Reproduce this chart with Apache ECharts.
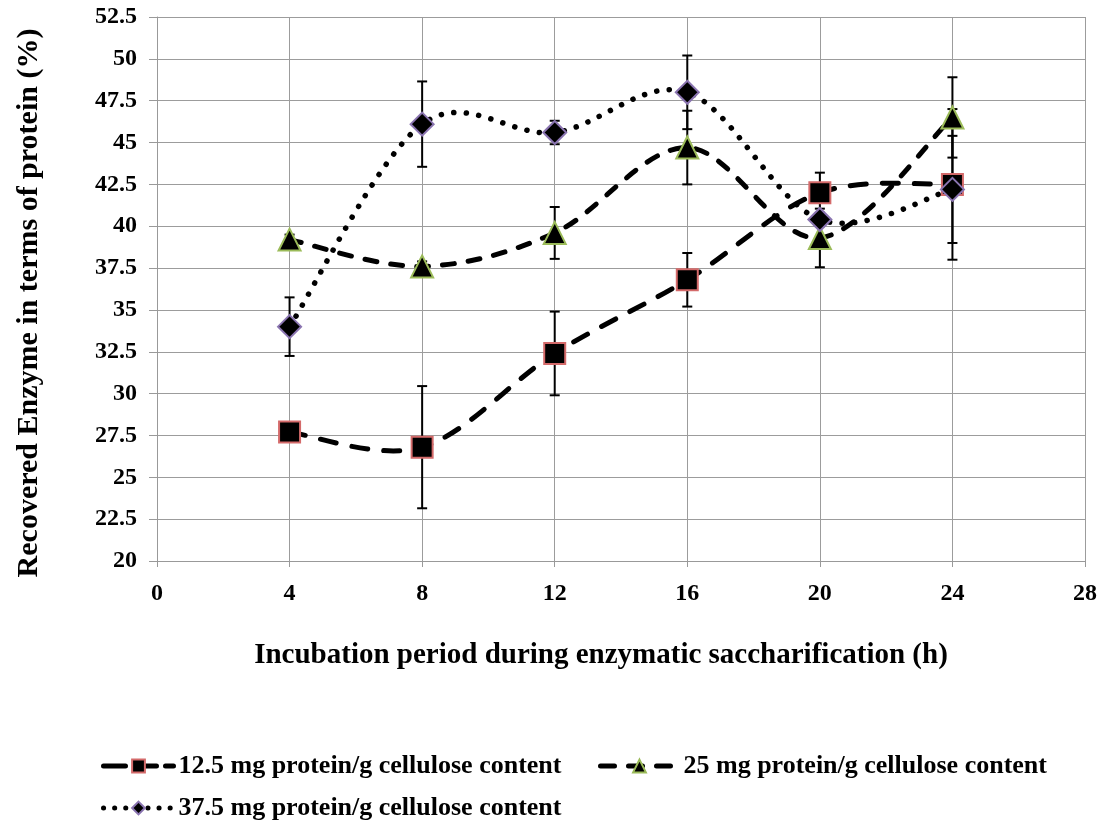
<!DOCTYPE html>
<html>
<head>
<meta charset="utf-8">
<script src="https://cdn.jsdelivr.net/npm/echarts@6/dist/echarts.min.js"></script>
<style>html,body{margin:0;padding:0;background:#fff}#c{width:1108px;height:823px}</style>
</head>
<body>
<div id="c"></div>
<script>
const hours = [4, 8, 12, 16, 20, 24];
const xTicks = [0, 4, 8, 12, 16, 20, 24, 28];
const yTicks = [20, 22.5, 25, 27.5, 30, 32.5, 35, 37.5, 40, 42.5, 45, 47.5, 50, 52.5];
const names = ['12.5 mg protein/g cellulose content', '25 mg protein/g cellulose content', '37.5 mg protein/g cellulose content'];
const s1 = [27.7, 26.8, 32.4, 36.8, 42.0, 42.5];
const s1err = [0.3, 3.65, 2.5, 1.6, 1.2, 4.5];
const s2 = [39.2, 37.6, 39.6, 44.7, 39.3, 46.5];
const s2err = [0.3, 0.3, 1.55, 2.2, 1.75, 2.4];
const s3 = [34.0, 46.1, 45.6, 48.0, 40.4, 42.2];
const s3err = [1.75, 2.55, 0.7, 2.2, 0.4, 3.2];

const FONT = 'Liberation Serif';
const chart = echarts.init(document.getElementById('c'), null, {renderer: 'canvas'});

function pts(vals) { return hours.map((h, i) => [h, vals[i]]); }
function errData(vals, errs) { return hours.map((h, i) => [h, vals[i] - errs[i], vals[i] + errs[i]]); }
function errSeries(vals, errs) {
  return {
    type: 'custom', silent: true, z: 3,
    data: errData(vals, errs),
    renderItem: function (params, api) {
      const x = api.value(0);
      const lo = api.coord([x, api.value(1)]);
      const hi = api.coord([x, api.value(2)]);
      const w = 5;
      const st = {stroke: '#000', lineWidth: 2};
      return {type: 'group', children: [
        {type: 'line', shape: {x1: lo[0], y1: lo[1], x2: hi[0], y2: hi[1]}, style: st},
        {type: 'line', shape: {x1: lo[0] - w, y1: lo[1], x2: lo[0] + w, y2: lo[1]}, style: st},
        {type: 'line', shape: {x1: hi[0] - w, y1: hi[1], x2: hi[0] + w, y2: hi[1]}, style: st}
      ]};
    }
  };
}
// smoothed connecting curve (Catmull-Rom through the data points, drawn in pixel space)
function curveSeries(vals, dash, width) {
  return {
    type: 'custom', silent: true, z: 2,
    data: pts(vals),
    renderItem: function (params, api) {
      if (params.dataIndex !== 0) return null;
      const p = hours.map((h, i) => api.coord([h, vals[i]]));
      let d = 'M' + p[0][0] + ' ' + p[0][1];
      for (let i = 0; i < p.length - 1; i++) {
        const p0 = p[Math.max(i - 1, 0)], p1 = p[i], p2 = p[i + 1], p3 = p[Math.min(i + 2, p.length - 1)];
        const c1x = p1[0] + (p2[0] - p0[0]) / 6, c1y = p1[1] + (p2[1] - p0[1]) / 6;
        const c2x = p2[0] - (p3[0] - p1[0]) / 6, c2y = p2[1] - (p3[1] - p1[1]) / 6;
        d += ' C' + c1x + ' ' + c1y + ' ' + c2x + ' ' + c2y + ' ' + p2[0] + ' ' + p2[1];
      }
      return {type: 'path', shape: {pathData: d},
        style: {fill: null, stroke: '#000', lineWidth: width, lineDash: dash, lineCap: 'round', lineJoin: 'round'}};
    }
  };
}
const dash1 = [16, 16], dash2 = [12, 14], dash3 = [0.1, 12.5];
const legendText = {fontFamily: FONT, fontWeight: 'bold', fontSize: 26, color: '#000'};
function legendLine(dash, width) { return {color: '#000', width: width, type: dash, cap: 'round', opacity: 1}; }

chart.setOption({
  animation: false,
  backgroundColor: '#fff',
  grid: {left: 157, right: 23, top: 17, bottom: 262, containLabel: false},
  legend: [
    {data: [names[0]], left: 96, top: 748, itemWidth: 70, itemHeight: 16, textStyle: legendText, lineStyle: legendLine([22, 9], 5)},
    {data: [names[1]], left: 593, top: 748, itemWidth: 78, itemHeight: 16, textStyle: legendText, lineStyle: legendLine([14, 14], 5)},
    {data: [names[2]], left: 96, top: 790, itemWidth: 70, itemHeight: 16, textStyle: legendText, lineStyle: legendLine([0.1, 11], 5)}
  ],
  xAxis: {
    type: 'value', min: xTicks[0], max: xTicks[xTicks.length - 1], interval: 4,
    name: 'Incubation period during enzymatic saccharification (h)',
    nameLocation: 'middle', nameGap: 80,
    nameTextStyle: {fontFamily: FONT, fontWeight: 'bold', fontSize: 29, color: '#000', padding: [0, 40, 0, 0]},
    axisLine: {lineStyle: {color: '#999', width: 1}},
    axisTick: {show: true, length: 6, lineStyle: {color: '#999'}},
    axisLabel: {fontFamily: FONT, fontWeight: 'bold', fontSize: 24, color: '#000', margin: 21},
    splitLine: {show: true, lineStyle: {color: '#9c9c9c', width: 1}}
  },
  yAxis: {
    type: 'value', min: yTicks[0], max: yTicks[yTicks.length - 1], interval: 2.5,
    name: 'Recovered Enzyme in terms of protein (%)',
    nameLocation: 'middle', nameGap: 113,
    nameTextStyle: {fontFamily: FONT, fontWeight: 'bold', fontSize: 30, color: '#000', padding: [0, 28, 0, 0]},
    axisLine: {show: true, lineStyle: {color: '#999', width: 1}},
    axisTick: {show: true, length: 8, lineStyle: {color: '#999'}},
    axisLabel: {fontFamily: FONT, fontWeight: 'bold', fontSize: 24, color: '#000', margin: 20},
    splitLine: {show: true, lineStyle: {color: '#9c9c9c', width: 1}}
  },
  series: [
    curveSeries(s1, dash1, 5), curveSeries(s2, dash2, 5), curveSeries(s3, dash3, 5.5),
    errSeries(s1, s1err), errSeries(s2, s2err), errSeries(s3, s3err),
    {type: 'line', z: 4, name: names[0], data: pts(s1), symbol: 'rect', symbolSize: 21,
      lineStyle: {opacity: 0}, itemStyle: {color: '#000', borderColor: '#d46a6a', borderWidth: 2}},
    {type: 'line', z: 4, name: names[1], data: pts(s2), symbol: 'triangle', symbolSize: 22,
      lineStyle: {opacity: 0}, itemStyle: {color: '#000', borderColor: '#9bbb59', borderWidth: 2}},
    {type: 'line', z: 4, name: names[2], data: pts(s3), symbol: 'diamond', symbolSize: 23,
      lineStyle: {opacity: 0}, itemStyle: {color: '#000', borderColor: '#8a74b0', borderWidth: 2}}
  ]
});
</script>
</body>
</html>
